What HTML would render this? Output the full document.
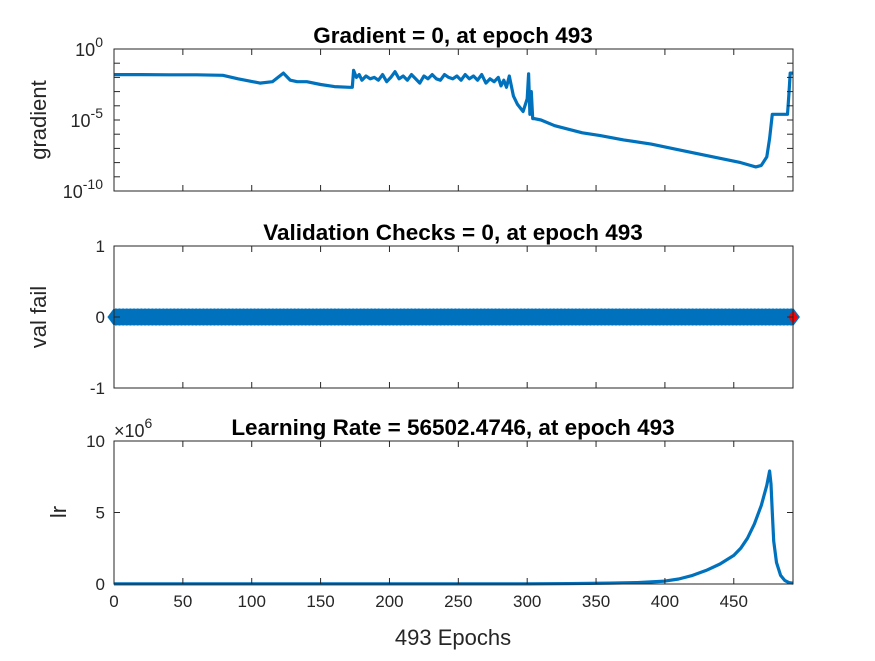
<!DOCTYPE html>
<html><head><meta charset="utf-8"><style>
body{margin:0;background:#fff;}
svg{font-family:"Liberation Sans",Arial,sans-serif;}
</style></head><body>
<svg id="chart" width="875" height="656" viewBox="0 0 875 656" xmlns="http://www.w3.org/2000/svg">
<rect width="875" height="656" fill="#ffffff"/>
<g id="g"></g>
</svg>
<script>
// ---- data ----
const gradEpochs = [0,20,40,60,79,90,106,115,123,128,133,140,150,160,171,173,174,176,178,180,183,186,189,192,195,198,201,204,207,210,213,216,219,222,225,228,231,234,237,240,243,246,249,252,255,258,261,264,267,270,273,276,279,281,283,285,287,290,293,297,300,301,302,303,304,305,310,320,340,353,370,390,410,425,440,455,462,466,470,474,476,478,480,485,489,490,491,493];
const gradLog = [-1.8,-1.8,-1.82,-1.82,-1.85,-2.1,-2.4,-2.3,-1.7,-2.2,-2.3,-2.3,-2.5,-2.65,-2.7,-2.7,-1.5,-2.0,-1.8,-2.2,-1.9,-2.1,-2.0,-2.2,-1.8,-2.3,-2.0,-1.6,-2.1,-1.9,-2.2,-1.8,-2.1,-2.4,-1.9,-2.1,-1.8,-2.1,-2.2,-1.8,-2.0,-2.1,-1.9,-2.2,-1.8,-2.1,-1.9,-2.2,-1.8,-2.4,-2.1,-2.3,-2.0,-2.6,-2.2,-2.7,-1.9,-3.3,-3.9,-4.4,-3.5,-1.75,-4.6,-3.0,-4.9,-4.9,-5.0,-5.4,-5.9,-6.1,-6.4,-6.7,-7.1,-7.4,-7.7,-8.0,-8.2,-8.3,-8.2,-7.6,-6.3,-4.6,-4.6,-4.6,-4.6,-3.2,-1.7,-1.7];
const lrEpochs = [0,100,200,300,330,360,380,400,410,420,430,440,450,455,460,465,470,474,476,477,478,479,481,484,487,490,493];
const lrValues = [0.005,0.005,0.005,0.01,0.03,0.06,0.1,0.2,0.35,0.6,0.95,1.4,2.0,2.5,3.2,4.2,5.5,6.9,7.9,7.0,5.0,3.0,1.5,0.6,0.25,0.1,0.056];
const xTicks = [0,50,100,150,200,250,300,350,400,450];
const valTicks = [-1,0,1];
const lrTicks = [0,5,10];
const nEpochs = 493;

const NS="http://www.w3.org/2000/svg";
const g=document.getElementById('g');
function el(t,a,p){const e=document.createElementNS(NS,t);for(const k in a)e.setAttribute(k,a[k]);(p||g).appendChild(e);return e;}
const X0=114,X1=793;
const xs=v=>X0+(v/nEpochs)*(X1-X0);
const axes=[{t:49,b:191},{t:246,b:388},{t:441,b:584}];
const yGrad=v=>49+(0-v)/10*(191-49);
const yVal=v=>317-v*71;
const yLr=v=>584-v/10*(584-441);

const titles=["Gradient = 0, at epoch 493","Validation Checks = 0, at epoch 493","Learning Rate = 56502.4746, at epoch 493"];
const tnames=["gradient-title","validation-title","learning-rate-title"];
axes.forEach((a,i)=>{
 const t=el('text',{x:453,y:a.t-6,'text-anchor':'middle','font-size':22.5,'font-weight':'bold',fill:'#000'});
 
 
 t.textContent=titles[i];
});

let d=gradEpochs.map((e,i)=>(i?'L':'M')+xs(e).toFixed(1)+','+yGrad(gradLog[i]).toFixed(1)).join('');
const gl=el('path',{d:d,fill:'none',stroke:'#0072BD','stroke-width':3.2,'stroke-linejoin':'round'});


const vg=el('g',{});


for(let e=0;e<nEpochs;e++){
 const x=xs(e),y=yVal(0);
 el('path',{d:`M${x-6},${y}L${x},${y-8}L${x+6},${y}L${x},${y+8}Z`,fill:'#0072BD',stroke:'#0072BD','stroke-width':1},vg);
}
{const x=xs(nEpochs),y=yVal(0);
 const r=el('path',{d:`M${x-6},${y}L${x},${y-8}L${x+6},${y}L${x},${y+8}Z`,fill:'#ff0000',stroke:'#0072BD','stroke-width':1.5});
 
 }
d=lrEpochs.map((e,i)=>(i?'L':'M')+xs(e).toFixed(1)+','+yLr(lrValues[i]).toFixed(1)).join('');
const ll=el('path',{d:d,fill:'none',stroke:'#0072BD','stroke-width':3.2,'stroke-linejoin':'round'});



axes.forEach((a,i)=>{
 const f=el('rect',{x:X0,y:a.t,width:X1-X0,height:a.b-a.t,fill:'none',stroke:'#262626','stroke-width':1});
 
 
 xTicks.forEach(v=>{const x=xs(v);
  el('line',{x1:x,x2:x,y1:a.b,y2:a.b-6,stroke:'#262626'});
  el('line',{x1:x,x2:x,y1:a.t,y2:a.t+6,stroke:'#262626'});});
});
function ytick(y){el('line',{x1:X0,x2:X0+6,y1:y,y2:y,stroke:'#262626'});el('line',{x1:X1,x2:X1-6,y1:y,y2:y,stroke:'#262626'});}
for(let k=0;k>=-10;k--) ytick(yGrad(k));
valTicks.forEach(v=>ytick(yVal(v)));
lrTicks.forEach(v=>ytick(yLr(v)));

[0,-5,-10].forEach(k=>{
 const t=el('text',{x:103,y:yGrad(k)+7,'text-anchor':'end','font-size':18,fill:'#262626'});
 
 
 t.appendChild(document.createTextNode('10'));
 const s=el('tspan',{'font-size':14,dy:-9},t);s.textContent=String(k);
});
valTicks.forEach(v=>{const t=el('text',{x:105,y:yVal(v)+6,'text-anchor':'end','font-size':17,fill:'#262626'});
 
 
 t.textContent=String(v);});
lrTicks.forEach(v=>{const t=el('text',{x:105,y:yLr(v)+6,'text-anchor':'end','font-size':17,fill:'#262626'});
 
 
 t.textContent=String(v);});
xTicks.forEach(v=>{const t=el('text',{x:xs(v),y:607,'text-anchor':'middle','font-size':17,fill:'#262626'});
 
 
 t.textContent=String(v);});
{const t=el('text',{x:114,y:437,'font-size':18,fill:'#262626'});
 
 
 t.appendChild(document.createTextNode('\u00d710'));
 const s=el('tspan',{'font-size':14,dy:-9},t);s.textContent='6';}

[['gradient',46,120,'gradient-y-label'],['val fail',46,317,'val-fail-y-label'],['lr',66,512,'lr-y-label']].forEach(([s,x,y,n])=>{
 const t=el('text',{x:x,y:y,'text-anchor':'middle','font-size':22,fill:'#262626',transform:`rotate(-90 ${x} ${y})`});
 
 
 t.textContent=s;});
{const t=el('text',{x:453,y:645,'text-anchor':'middle','font-size':22,fill:'#262626'});
 
 
 t.textContent='493 Epochs';}
</script>
</body></html>
